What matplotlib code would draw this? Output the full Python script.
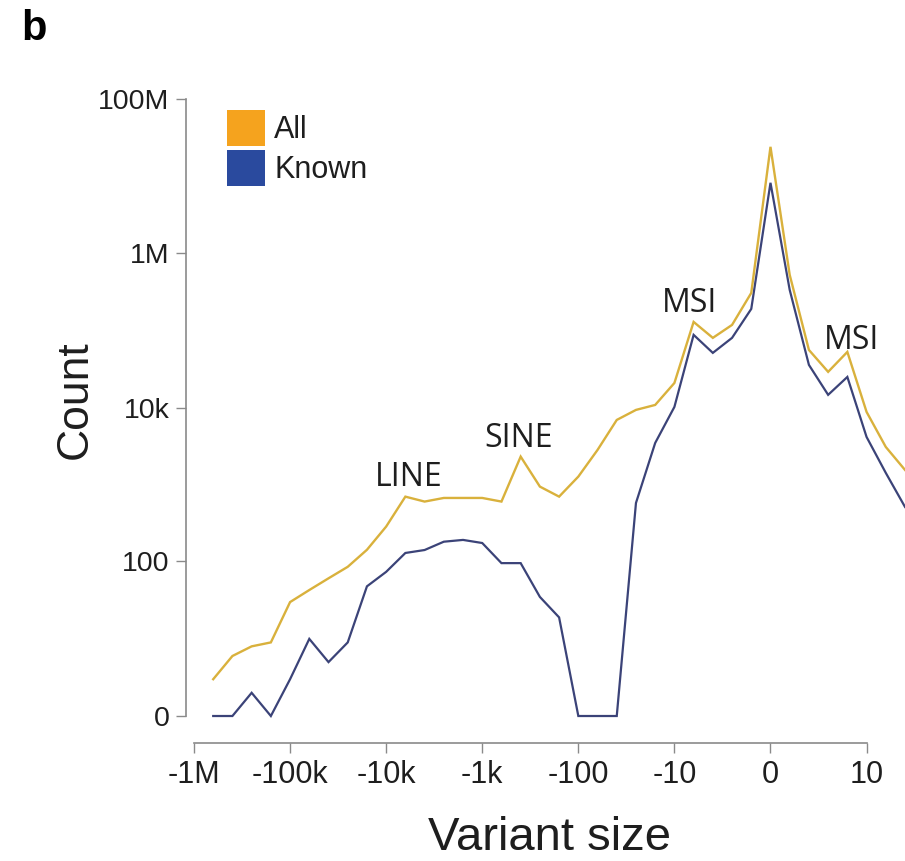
import numpy as np
import matplotlib
matplotlib.use("Agg")
import matplotlib.pyplot as plt
from matplotlib.patches import Patch

# ---- data ----
bin_index = list(range(1, 38))          # bin positions (5 bins per labelled tick step)
tick_pos = [0, 5, 10, 15, 20, 25, 30, 35]
tick_labels = ["-1M", "-100k", "-10k", "-1k", "-100", "-10", "0", "10"]

all_counts = [2, 5, 7, 8, 29, 42, 60, 85, 142, 285, 698, 602, 671, 671, 671, 602,
              2307, 942, 698, 1270, 2818, 6900, 9310, 10800, 20800, 128800, 80000,
              117800, 306000, 24000000, 525000, 55800, 29000, 52600, 8770, 3080, 1550]
known_counts = [0, 0, 1, 0, 2, 9, 4, 8, 47, 73, 129, 141, 181, 191, 174, 95,
                95, 34, 18, 0, 0, 0, 578, 3470, 10180, 87500, 51100,
                80000, 190000, 8200000, 335000, 35700, 14600, 24900, 4150, 1420, 513]

y_ticks = [0, 100, 10000, 1000000, 100000000]
y_tick_labels = ["0", "100", "10k", "1M", "100M"]

annotations = [("LINE", 11.2, 7.6e2), ("SINE", 16.9, 2.4e3),
               ("MSI", 25.8, 1.35e5), ("MSI", 34.2, 4.5e4)]

# ---- style ----
all_line = "#D9B13C"
known_line = "#3B4378"
all_patch = "#F5A31E"
known_patch = "#2A4A9E"
axis_grey = "#8A8A8A"
text_col = "#1E1E1E"

W, H = 905, 861
fig = plt.figure(figsize=(W / 100, H / 100), dpi=100)
ax = fig.add_axes([186 / W, (H - 743) / H, (W - 186) / W, (743 - 90) / H])


def fwd(y):
    y = np.asarray(y, dtype=float)
    return np.log10(np.clip(y + 1.0, 1e-6, None))


def inv(v):
    return 10.0 ** np.asarray(v, dtype=float) - 1.0


ax.set_yscale("function", functions=(fwd, inv))

ax.plot(bin_index, all_counts, color=all_line, lw=1.7, solid_joinstyle="miter", zorder=3)
ax.plot(bin_index, known_counts, color=known_line, lw=1.6, solid_joinstyle="miter", zorder=2)

ax.set_xlim(-0.416, 37.0)
ax.set_ylim(inv(-0.350), inv(8.117))

for s in ["top", "right"]:
    ax.spines[s].set_visible(False)
for s in ["left", "bottom"]:
    ax.spines[s].set_color(axis_grey)
    ax.spines[s].set_linewidth(1.2)
ax.spines["bottom"].set_bounds(tick_pos[0], tick_pos[-1])
ax.spines["left"].set_bounds(y_ticks[0], y_ticks[-1])

ax.set_xticks(tick_pos)
ax.set_xticklabels(tick_labels)
ax.set_yticks(y_ticks)
ax.set_yticklabels(y_tick_labels)
ax.minorticks_off()
ax.tick_params(axis="both", colors=axis_grey, length=7, width=1.0, labelcolor=text_col)
ax.tick_params(axis="x", labelsize=22, pad=5)
ax.tick_params(axis="y", labelsize=20.5, pad=5)
for lab in ax.get_xticklabels() + ax.get_yticklabels():
    lab.set_fontfamily("Liberation Sans")

for txt, xx, yy in annotations:
    ax.text(xx, yy, txt, fontsize=23, family="Open Sans", color=text_col,
            ha="center", va="bottom")

handles = [Patch(facecolor=all_patch, edgecolor="none", label="All"),
           Patch(facecolor=known_patch, edgecolor="none", label="Known")]
leg = fig.legend(handles=handles, loc="upper left", bbox_to_anchor=(227 / W, 1 - 110 / H),
                 frameon=False, prop={"family": "Liberation Sans", "size": 22},
                 handlelength=1.25, handleheight=1.45, handletextpad=0.3,
                 labelspacing=0.12, borderpad=0, borderaxespad=0)
for t in leg.get_texts():
    t.set_color(text_col)

fig.text(75 / W, 1 - 400 / H, "Count", rotation=90, fontsize=32,
         family="Liberation Sans", color=text_col, ha="center", va="center")
fig.text(549 / W, 1 - 838 / H, "Variant size", fontsize=34,
         family="Liberation Sans", color=text_col, ha="center", va="center")
fig.text(34 / W, 1 - 29 / H, "b", fontsize=30, fontweight="bold",
         family="Liberation Sans", color="black", ha="center", va="center")

fig.savefig("out.png", dpi=100, facecolor="white")
